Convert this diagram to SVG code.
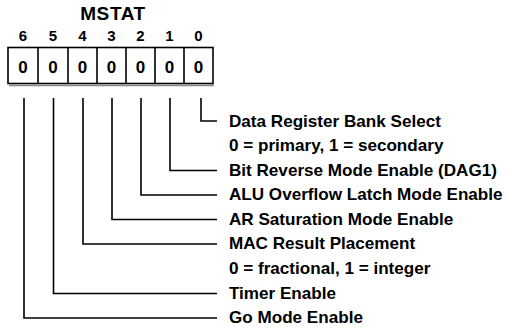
<svg xmlns="http://www.w3.org/2000/svg" width="509" height="331" viewBox="0 0 509 331">
<style>
text{font-family:"Liberation Sans",Arial,sans-serif;font-weight:bold;fill:#000}
.lbl{font-size:16px}
.bit{font-size:15px;text-anchor:middle}
.val{font-size:17px;text-anchor:middle}
.ln{fill:none;stroke:#000;stroke-width:1.6}
</style>
<rect width="509" height="331" fill="#fff"/>
<g id="register">
<text x="113" y="19.5" font-size="19" letter-spacing="0.6" text-anchor="middle">MSTAT</text>
<g id="bitnums">
<text class="bit" x="23" y="40.5">6</text>
<text class="bit" x="53" y="40.5">5</text>
<text class="bit" x="82.5" y="40.5">4</text>
<text class="bit" x="111.5" y="40.5">3</text>
<text class="bit" x="140.5" y="40.5">2</text>
<text class="bit" x="169.5" y="40.5">1</text>
<text class="bit" x="198.5" y="40.5">0</text>
</g>
<line x1="9" y1="85.5" x2="214" y2="85.5" stroke="#888" stroke-width="1.5"/>
<rect x="8" y="47.5" width="205" height="36" fill="#fff" stroke="#000" stroke-width="1.6"/>
<path class="ln" d="M38 47.5V83.5M68 47.5V83.5M97 47.5V83.5M126 47.5V83.5M155 47.5V83.5M184 47.5V83.5"/>
<g id="values">
<text class="val" x="23" y="72.5">0</text>
<text class="val" x="53" y="72.5">0</text>
<text class="val" x="82.5" y="72.5">0</text>
<text class="val" x="111.5" y="72.5">0</text>
<text class="val" x="140.5" y="72.5">0</text>
<text class="val" x="169.5" y="72.5">0</text>
<text class="val" x="198.5" y="72.5">0</text>
</g>
</g>
<g id="connectors">
<path class="ln" d="M201 98V121H217"/>
<path class="ln" d="M170 98V170.5H217"/>
<path class="ln" d="M141 98V195H217"/>
<path class="ln" d="M112 98V219.5H217"/>
<path class="ln" d="M83 98V244H217"/>
<path class="ln" d="M53.5 98V293.5H217"/>
<path class="ln" d="M24 98V318H217"/>
</g>
<g id="labels" transform="scale(1.07 1)">
<text class="lbl" x="214" y="126.8">Data Register Bank Select</text>
<text class="lbl" x="214" y="151.3">0 = primary, 1 = secondary</text>
<text class="lbl" x="214" y="175.8">Bit Reverse Mode Enable (DAG1)</text>
<text class="lbl" x="214" y="200.3">ALU Overflow Latch Mode Enable</text>
<text class="lbl" x="214" y="224.8">AR Saturation Mode Enable</text>
<text class="lbl" x="214" y="249.3">MAC Result Placement</text>
<text class="lbl" x="214" y="273.8">0 = fractional, 1 = integer</text>
<text class="lbl" x="214" y="298.8">Timer Enable</text>
<text class="lbl" x="214" y="323.3">Go Mode Enable</text>
</g>
</svg>
